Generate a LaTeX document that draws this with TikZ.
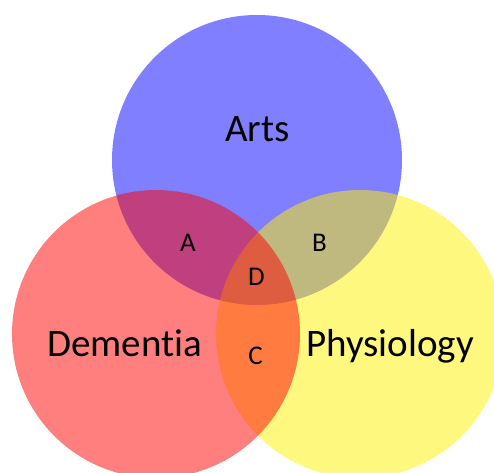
\documentclass[tikz,border=0pt]{standalone}
\usepackage{fontspec}
\setmainfont[Ligatures=NoCommon]{Carlito}
\usetikzlibrary{calc}
\tikzset{
  setname/.style={anchor=base, font=\fontsize{39}{46}\selectfont},
  partname/.style={anchor=base, font=\fontsize{27}{32}\selectfont}
}

\begin{document}
\begin{tikzpicture}[x=1pt,y=1pt]
\useasboundingbox (0,0) rectangle (494,472);
\clip (0,0) rectangle (494,472);
\fill[blue, opacity=.5] (257,312) circle (145);
\fill[yellow, opacity=.5] (360,138) circle (144);
\fill[red, opacity=.5] (156,138) circle (144);
\node[setname] (arts) at (257.5,331) {Arts};
\node[setname] (dem) at (124.5,116) {Dementia};
\node[setname] (phys) at (390,116) {Physiology};
\node[partname] (a) at (188,221) {A};
\node[partname] (b) at (319.5,221) {B};
\node[partname] (d) at (256.5,187) {D};
\node[partname] (c) at (255.5,108) {C};
\end{tikzpicture}
\end{document}
